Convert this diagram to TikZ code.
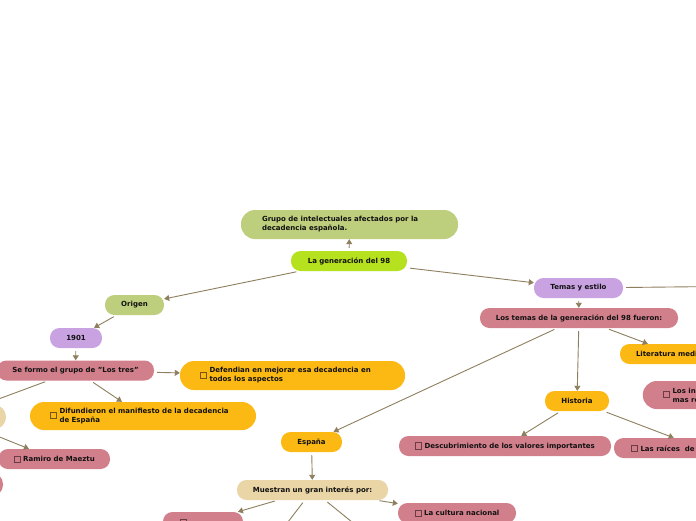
\documentclass[tikz,border=0pt]{standalone}
\usepackage{fontspec}
\setmainfont{DejaVu Sans}
\usetikzlibrary{arrows.meta}
\definecolor{olivec}{HTML}{BDCE7D}
\definecolor{limec}{HTML}{B5E11F}
\definecolor{lavc}{HTML}{C9A2E2}
\definecolor{pinkc}{HTML}{D27F8C}
\definecolor{amberc}{HTML}{FDB913}
\definecolor{beigec}{HTML}{E9D5A6}
\definecolor{linec}{HTML}{8E7F5E}
\definecolor{chkA}{HTML}{7A5610}
\definecolor{chkP}{HTML}{6A3C45}
\definecolor{txtc}{HTML}{111111}
\newcommand{\chkbox}[1]{\raisebox{-0.6pt}{\fboxsep=0pt\fboxrule=0.8pt\color{#1}\fbox{\rule{0pt}{5.4pt}\hspace{5.4pt}}}\hspace{2.5pt}}
\begin{document}
\begin{tikzpicture}[x=1pt,y=-1pt,
  mm/.style={rectangle, rounded corners=#1, inner sep=0pt, font=\fontsize{7}{8.9}\selectfont\bfseries, text=txtc, align=center},
  mm/.default=9.5pt,
  arr/.style={draw=linec, line width=0.9pt, shorten <=3pt, -{Triangle[length=5pt,width=6pt]}},
  plain/.style={draw=linec, line width=0.9pt, shorten <=3pt}]
\useasboundingbox (0,0) rectangle (696,520);
\clip (0,0) rectangle (696,520);
\fill[white] (0,0) rectangle (696,520);

% nodes
\node[mm=14pt, fill=olivec, minimum width=217pt, minimum height=29pt] (grupo) at (349.5,224.5)
  {\parbox{175pt}{\raggedright Grupo de intelectuales afectados por la\\decadencia española.}};
\node[mm, fill=limec, minimum width=116pt, minimum height=20pt] (gen) at (349,261) {La generación del 98};
\node[mm, fill=olivec, minimum width=59pt, minimum height=20pt] (origen) at (134.5,305) {Origen};
\node[mm, fill=lavc, minimum width=52pt, minimum height=20pt] (n1901) at (76,338) {1901};
\node[mm, fill=pinkc, minimum width=157pt, minimum height=20pt] (tres) at (75.5,370.5) {Se formo el grupo de "Los tres"};
\node[mm=14pt, fill=amberc, minimum width=225pt, minimum height=29pt] (defend) at (292.5,375.5)
  {\chkbox{chkA}\parbox[c]{175.5pt}{\raggedright Defendian en mejorar esa decadencia en\\todos los aspectos}};
\node[mm=14pt, fill=amberc, minimum width=226pt, minimum height=28pt] (difund) at (143,416)
  {\chkbox{chkA}\parbox[c]{176.5pt}{\raggedright Difundieron el manifiesto de la decadencia\\de España}};
\node[mm=12pt, fill=beigec, minimum width=112pt, minimum height=24.4pt] (beigeL) at (-50,417) {};
\node[mm, fill=pinkc, minimum width=111.5pt, minimum height=20pt] (ramiro) at (54.25,459) {\chkbox{chkP}Ramiro de Maeztu};
\node[mm=11pt, fill=pinkc, minimum width=86pt, minimum height=23pt] (pinkL) at (-40,484.5) {};

\node[mm, fill=lavc, minimum width=89pt, minimum height=20pt] (temas) at (578.5,288) {Temas y estilo};
\node[mm, fill=pinkc, minimum width=198pt, minimum height=20pt] (lostemas) at (579,318) {Los temas de la generación del 98 fueron:};
\node[mm, fill=amberc, minimum width=110pt, minimum height=20pt] (literatura) at (675,354)
  {\parbox{78pt}{\raggedright Literatura medi}};
\node[mm=14pt, fill=pinkc, minimum width=150pt, minimum height=28pt] (losin) at (717.75,395)
  {\chkbox{chkP}\parbox[c]{100pt}{\raggedright Los in\\mas re}};
\node[mm, fill=amberc, minimum width=64pt, minimum height=20pt] (historia) at (577,401) {Historia};
\node[mm, fill=pinkc, minimum width=212pt, minimum height=20pt] (descub) at (505,446) {\chkbox{chkP}Descubrimiento de los valores importantes};
\node[mm, fill=pinkc, minimum width=173pt, minimum height=20pt] (raices) at (700.5,448)
  {\chkbox{chkP}\parbox[c]{129.5pt}{\raggedright Las raíces\ \ de}};
\node[mm, fill=amberc, minimum width=61pt, minimum height=20pt] (espana) at (311.5,442) {España};
\node[mm, fill=beigec, minimum width=151pt, minimum height=20pt] (muestran) at (312.5,490) {Muestran un gran interés por:};
\node[mm, fill=pinkc, minimum width=118pt, minimum height=20pt] (cultura) at (457,513) {\chkbox{chkP}La cultura nacional};
\node[mm, fill=pinkc, minimum width=80pt, minimum height=20pt] (pinkB) at (203,522) {\makebox[46pt][l]{\chkbox{chkP}}};

\coordinate (offR) at (760,286);
\coordinate (offB1) at (268,548);
\coordinate (offB2) at (384,548);

% connectors
\draw[arr] (gen) -- (grupo);
\draw[arr] (gen) -- (origen);
\draw[arr] (gen) -- (temas);
\draw[arr] (origen) -- (n1901);
\draw[arr] (n1901) -- (tres);
\draw[arr] (tres) -- (defend);
\draw[arr] (tres) -- (difund);
\draw[arr] (tres) -- (beigeL);
\draw[arr] (beigeL) -- (ramiro);
\draw[plain] (temas) -- (offR);
\draw[arr] (temas) -- (lostemas);
\draw[arr] (lostemas) -- (literatura);
\draw[arr] (lostemas) -- (historia);
\draw[arr] (lostemas) -- (espana);
\draw[arr] (historia) -- (descub);
\draw[arr] (historia) -- (raices);
\draw[arr] (espana) -- (muestran);
\draw[arr] (muestran) -- (pinkB);
\draw[arr] (muestran) -- (cultura);
\draw[plain] (muestran) -- (offB1);
\draw[plain] (muestran) -- (offB2);
\end{tikzpicture}
\end{document}
